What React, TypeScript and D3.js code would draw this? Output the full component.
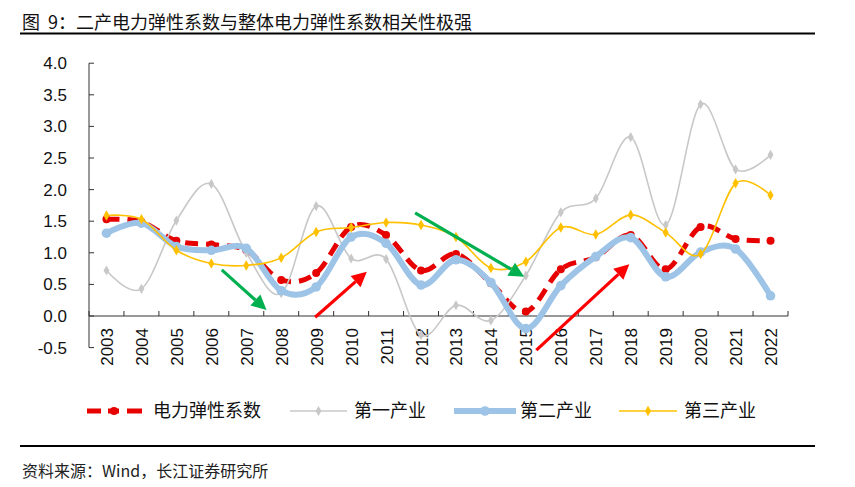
import React from "react";
import {
  scaleLinear,
  line,
  curveCatmullRom,
  symbol,
  symbolDiamond,
  range,
} from "d3";

// categories
const years = [
  "2003", "2004", "2005", "2006", "2007", "2008", "2009", "2010", "2011", "2012",
  "2013", "2014", "2015", "2016", "2017", "2018", "2019", "2020", "2021", "2022",
];

// 电力弹性系数
const totalElasticity = [
  1.53, 1.49, 1.19, 1.13, 1.04, 0.57, 0.68, 1.41, 1.28, 0.72,
  0.98, 0.52, 0.07, 0.74, 0.93, 1.28, 0.74, 1.41, 1.22, 1.19,
];
// 第一产业
const primaryInd = [
  0.72, 0.43, 1.51, 2.09, 1.0, 0.36, 1.74, 0.91, 0.9, -0.3,
  0.17, -0.07, 0.64, 1.64, 1.86, 2.83, 1.44, 3.35, 2.32, 2.55,
];
// 第二产业
const secondaryInd = [
  1.31, 1.47, 1.1, 1.04, 1.07, 0.4, 0.46, 1.25, 1.15, 0.49,
  0.89, 0.53, -0.2, 0.48, 0.94, 1.24, 0.62, 1.01, 1.06, 0.32,
];
// 第三产业
const tertiaryInd = [
  1.59, 1.53, 1.04, 0.83, 0.8, 0.92, 1.33, 1.4, 1.48, 1.44,
  1.25, 0.76, 0.86, 1.4, 1.29, 1.6, 1.32, 0.98, 2.1, 1.91,
];

const yTicks = [-0.5, 0, 0.5, 1, 1.5, 2, 2.5, 3, 3.5, 4];

// annotation arrows: [category index, value] from -> to
const downArrows = [
  { from: [3.3, 0.73], to: [4.58, 0.095] },
  { from: [8.83, 1.63], to: [11.95, 0.62] },
];
const upArrows = [
  { from: [5.97, -0.02], to: [7.45, 0.7] },
  { from: [12.3, -0.54], to: [14.96, 0.82] },
];

const W = 855;
const H = 487;
const plot = { left: 89, right: 788, top: 63.2, bottom: 347.6 };
const FONT = '"Liberation Sans", "Noto Sans CJK SC", Arial, sans-serif';
const CJK = '"Noto Sans CJK SC", "Liberation Sans", sans-serif';

const x = scaleLinear()
  .domain([0, years.length])
  .range([plot.left, plot.right]);
const cx = (i: number) => x(i + 0.5);
const y = scaleLinear().domain([-0.5, 4]).range([plot.bottom, plot.top]);

const smooth = line<number>()
  .x((_, i) => cx(i))
  .y((d) => y(d))
  .curve(curveCatmullRom.alpha(0));

const diamond = (size: number) => symbol(symbolDiamond, size)()!;

function Arrow({ from, to, color }: { from: number[]; to: number[]; color: string }) {
  const x1 = cx(from[0]);
  const y1 = y(from[1]);
  const x2 = cx(to[0]);
  const y2 = y(to[1]);
  const ang = Math.atan2(y2 - y1, x2 - x1);
  const len = 15;
  const half = 7.5;
  const bx = x2 - len * Math.cos(ang);
  const by = y2 - len * Math.sin(ang);
  const px = -Math.sin(ang) * half;
  const py = Math.cos(ang) * half;
  return (
    <g>
      <line x1={x1} y1={y1} x2={bx} y2={by} stroke={color} strokeWidth={3.2} />
      <polygon
        points={`${x2},${y2} ${bx + px},${by + py} ${bx - px},${by - py}`}
        fill={color}
      />
    </g>
  );
}

const RED = "#E60000";
const GRAY = "#C8C8C8";
const BLUE = "#9DC3E6";
const YELLOW = "#FFC000";

export default function App() {
  return (
    <div style={{ position: "absolute", left: 0, top: 0 }}>
      <svg width={W} height={H} style={{ display: "block", background: "#fff" }}>
        {/* title */}
        <text
          x={22}
          y={29}
          fontFamily={CJK}
          fontSize={18}
          fill="#111"
          style={{ whiteSpace: "pre" }}
        >
          {"图  9：二产电力弹性系数与整体电力弹性系数相关性极强"}
        </text>
        <line x1={20} x2={815} y1={33.5} y2={33.5} stroke="#000" strokeWidth={2} />

        {/* y axis */}
        <line x1={plot.left} x2={plot.left} y1={plot.top} y2={plot.bottom} stroke="#333" />
        {yTicks.map((t) => (
          <g key={t}>
            <line
              x1={plot.left}
              x2={plot.left + 5}
              y1={y(t)}
              y2={y(t)}
              stroke="#333"
            />
            <text
              x={67}
              y={y(t)}
              dy="0.35em"
              textAnchor="end"
              fontFamily={FONT}
              fontSize={17}
              fill="#111"
            >
              {t.toFixed(1)}
            </text>
          </g>
        ))}

        {/* x axis at zero */}
        <line x1={plot.left} x2={plot.right} y1={y(0)} y2={y(0)} stroke="#333" />
        {range(years.length + 1).map((i) => (
          <line
            key={i}
            x1={x(i)}
            x2={x(i)}
            y1={y(0)}
            y2={y(0) - 5}
            stroke="#333"
          />
        ))}
        {years.map((yr, i) => (
          <text
            key={yr}
            transform={`translate(${cx(i) + 6.5},${y(0) + 12}) rotate(-90)`}
            textAnchor="end"
            fontFamily={FONT}
            fontSize={17}
            fill="#111"
          >
            {yr}
          </text>
        ))}

        {/* series: 电力弹性系数 */}
        <path
          d={smooth(totalElasticity)!}
          fill="none"
          stroke={RED}
          strokeWidth={5}
          strokeDasharray="13 8"
        />
        {totalElasticity.map((v, i) => (
          <circle key={i} cx={cx(i)} cy={y(v)} r={4} fill={RED} />
        ))}

        {/* 第一产业 */}
        <path d={smooth(primaryInd)!} fill="none" stroke={GRAY} strokeWidth={1.6} />
        {primaryInd.map((v, i) => (
          <path
            key={i}
            d={diamond(30)}
            transform={`translate(${cx(i)},${y(v)})`}
            fill={GRAY}
          />
        ))}

        {/* 第二产业 */}
        <path
          d={smooth(secondaryInd)!}
          fill="none"
          stroke={BLUE}
          strokeWidth={6}
          strokeLinecap="round"
        />
        {secondaryInd.map((v, i) => (
          <circle key={i} cx={cx(i)} cy={y(v)} r={4.8} fill={BLUE} />
        ))}

        {/* 第三产业 */}
        <path d={smooth(tertiaryInd)!} fill="none" stroke={YELLOW} strokeWidth={1.6} />
        {tertiaryInd.map((v, i) => (
          <path
            key={i}
            d={diamond(32)}
            transform={`translate(${cx(i)},${y(v)})`}
            fill={YELLOW}
          />
        ))}

        {/* arrows */}
        {downArrows.map((a, i) => (
          <Arrow key={`d${i}`} from={a.from} to={a.to} color="#00B050" />
        ))}
        {upArrows.map((a, i) => (
          <Arrow key={`u${i}`} from={a.from} to={a.to} color="#FF0000" />
        ))}

        {/* legend */}
        <g fontFamily={CJK} fontSize={18} fill="#111">
          <line x1={87} x2={101} y1={411} y2={411} stroke={RED} strokeWidth={5} />
          <line x1={108} x2={119} y1={411} y2={411} stroke={RED} strokeWidth={5} />
          <circle cx={114} cy={411} r={4} fill={RED} />
          <line x1={127} x2={142} y1={411} y2={411} stroke={RED} strokeWidth={5} />
          <text x={153} y={411} dy="0.36em">电力弹性系数</text>

          <line x1={290} x2={347} y1={411} y2={411} stroke={GRAY} strokeWidth={1.6} />
          <path d={diamond(30)} transform="translate(318.5,411)" fill={GRAY} />
          <text x={354} y={411} dy="0.36em">第一产业</text>

          <line x1={454} x2={516} y1={411} y2={411} stroke={BLUE} strokeWidth={6} />
          <circle cx={485} cy={411} r={4.8} fill={BLUE} />
          <text x={520} y={411} dy="0.36em">第二产业</text>

          <line x1={619} x2={677} y1={411} y2={411} stroke={YELLOW} strokeWidth={1.6} />
          <path d={diamond(32)} transform="translate(648,411)" fill={YELLOW} />
          <text x={684} y={411} dy="0.36em">第三产业</text>
        </g>

        {/* footer */}
        <line x1={20} x2={815} y1={446} y2={446} stroke="#000" strokeWidth={2} />
        <text x={22} y={471} dy="0.36em" fontFamily={CJK} fontSize={16} fill="#222">
          资料来源：Wind，长江证券研究所
        </text>
      </svg>
    </div>
  );
}
